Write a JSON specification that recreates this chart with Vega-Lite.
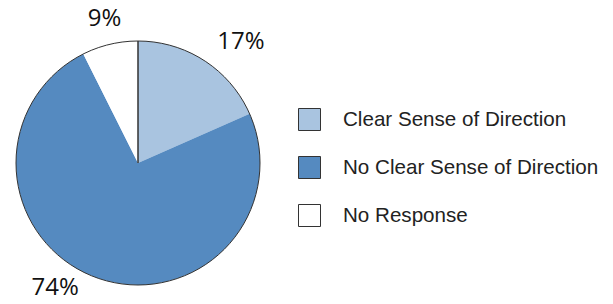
{
  "$schema": "https://vega.github.io/schema/vega-lite/v6.json",
  "width": 276,
  "height": 326,
  "autosize": {"type": "none"},
  "padding": {"left": 0, "top": 0, "right": 337, "bottom": 0},
  "background": "white",
  "view": {"stroke": null},
  "config": {"font": "Liberation Sans"},
  "data": {
    "values": [
      {"category": "Clear Sense of Direction", "value": 18.4, "rank": 1, "label": "17%"},
      {"category": "No Clear Sense of Direction", "value": 74.2, "rank": 2, "label": "74%"},
      {"category": "No Response", "value": 7.4, "rank": 3, "label": "9%"}
    ]
  },
  "layer": [
    {
      "mark": {"type": "arc", "outerRadius": 122, "stroke": null},
      "encoding": {
        "theta": {"field": "value", "type": "quantitative", "stack": true},
        "order": {"field": "rank", "type": "quantitative"},
        "color": {
          "field": "category",
          "type": "nominal",
          "scale": {
            "domain": ["Clear Sense of Direction", "No Clear Sense of Direction", "No Response"],
            "range": ["#a9c4e0", "#558ac0", "#ffffff"]
          },
          "legend": {
            "title": null,
            "orient": "none",
            "legendX": 298,
            "legendY": 108,
            "padding": 0,
            "symbolType": "square",
            "symbolSize": 484,
            "symbolStrokeColor": "#333333",
            "symbolStrokeWidth": 1,
            "symbolOpacity": 1,
            "labelFont": "Liberation Sans",
            "labelFontSize": 20.6,
            "labelColor": "#222222",
            "labelOffset": 22,
            "rowPadding": 21,
            "labelLimit": 400
          }
        }
      }
    },
    {
      "data": {"values": [{"outline": 1}]},
      "mark": {
        "type": "arc",
        "outerRadius": 122,
        "theta": 0.0001,
        "theta2": 6.2831,
        "fill": null,
        "stroke": "#333333",
        "strokeWidth": 1
      },
      "encoding": {}
    },
    {
      "mark": {
        "type": "text",
        "radius": 150,
        "font": "Open Sans",
        "fontSize": 24,
        "fill": "#111111",
        "dx": {"expr": "datum.rank == 1 ? 21 : datum.rank == 2 ? -32 : 1"},
        "dy": {"expr": "datum.rank == 1 ? 5 : datum.rank == 2 ? -16 : 2"}
      },
      "encoding": {
        "theta": {"field": "value", "type": "quantitative", "stack": true},
        "order": {"field": "rank", "type": "quantitative"},
        "text": {"field": "label", "type": "nominal"}
      }
    }
  ]
}
